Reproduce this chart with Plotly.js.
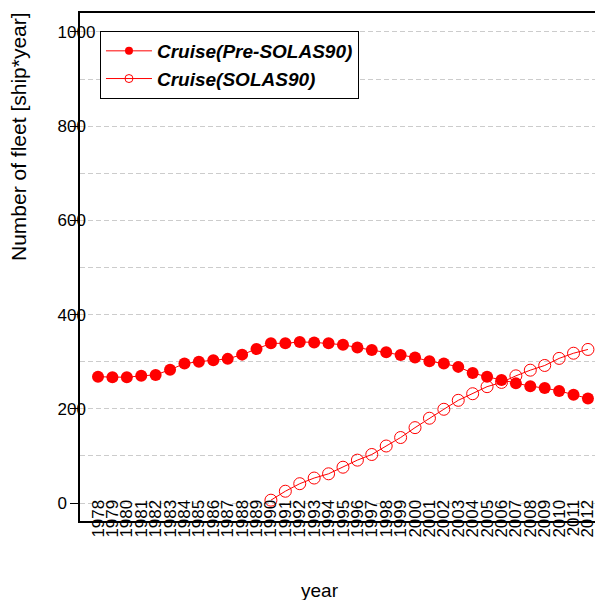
<!DOCTYPE html>
<html>
<head>
<meta charset="utf-8">
<script src="https://cdn.plot.ly/plotly-3.0.1.min.js"></script>
<style>html,body{margin:0;padding:0;background:#fff;}#chart{width:595px;height:600px;}</style>
</head>
<body>
<div id="chart"></div>
<script>
const years = [1978,1979,1980,1981,1982,1983,1984,1985,1986,1987,1988,1989,1990,1991,1992,1993,1994,1995,1996,1997,1998,1999,2000,2001,2002,2003,2004,2005,2006,2007,2008,2009,2010,2011,2012];
const preSolas = [268,267,267,270,272,283,296,300,303,306,315,327,339,339,342,341,339,336,330,325,320,314,309,301,296,289,276,268,261,254,248,244,238,230,222];
const solas = [null,null,null,null,null,null,null,null,null,null,null,null,6,25,41,53,62,76,91,103,121,139,160,180,199,218,232,247,256,270,282,292,307,318,326];
const seriesNames = ["Cruise(Pre-SOLAS90)", "Cruise(SOLAS90)"];
const yTicks = [0,200,400,600,800,1000];
const xTickText = years.map(String);

const red = "#ff0000";
const fontFam = "Liberation Sans, Arial, sans-serif";

const traces = [
  {x: years, y: preSolas, mode: "lines+markers", type: "scatter", showlegend: false,
   line: {color: red, width: 1}, marker: {symbol: "circle", size: 12, color: red}},
  {x: years, y: solas, mode: "lines+markers", type: "scatter", showlegend: false,
   line: {color: red, width: 1}, marker: {symbol: "circle-open", size: 12, color: red, line: {width: 1, color: red}}},
  {x: [null], y: [null], mode: "lines+markers", type: "scatter", name: seriesNames[0],
   line: {color: red, width: 1}, marker: {symbol: "circle", size: 8, color: red}},
  {x: [null], y: [null], mode: "lines+markers", type: "scatter", name: seriesNames[1],
   line: {color: red, width: 1}, marker: {symbol: "circle-open", size: 8, color: red, line: {width: 1, color: red}}}
];

const layout = {
  width: 595, height: 600,
  margin: {l: 80, r: 0, t: 13, b: 79, pad: 0},
  paper_bgcolor: "#fff", plot_bgcolor: "#fff",
  font: {family: fontFam, color: "#000", size: 17},
  showlegend: true,
  legend: {x: 0.0388, y: 0.9646, xanchor: "left", yanchor: "top",
    bgcolor: "#fff", bordercolor: "#000", borderwidth: 1,
    font: {family: fontFam, size: 19, weight: "bold", style: "italic", color: "#000"},
    itemwidth: 46, tracegroupgap: 0},
  xaxis: {
    type: "linear", range: [1976.75, 2012.49],
    tickmode: "array", tickvals: years, ticktext: xTickText,
    tickangle: -90, ticks: "", showgrid: false, zeroline: false,
    showline: true, mirror: true, linecolor: "#000", linewidth: 2,
    tickfont: {size: 17, family: fontFam, color: "#000"},
    ticklabelstandoff: -30, ticklabeloverflow: "allow"
  },
  yaxis: {
    range: [-38.2, 1040.3],
    tickmode: "array", tickvals: yTicks, ticktext: yTicks.map(String),
    ticks: "outside", ticklen: 8, tickcolor: "#000", tickwidth: 1,
    ticklabelposition: "inside", ticklabelstandoff: -22,
    showgrid: true, gridcolor: "#cccccc", gridwidth: 1, griddash: "5px,3px",
    minor: {tickvals: [100,300,500,700,900], showgrid: true, gridcolor: "#cccccc", gridwidth: 1, griddash: "5px,3px", ticks: ""},
    zeroline: false, showline: true, linecolor: "#000", linewidth: 2,
    tickfont: {size: 17, family: fontFam, color: "#000"}
  },
  annotations: [
    {text: "Number of fleet [ship*year]", xref: "paper", yref: "paper",
     x: (18 - 80) / 515, y: (521 - 137) / 508, xanchor: "center", yanchor: "middle",
     textangle: -90, showarrow: false, font: {size: 21, family: fontFam, color: "#000"}},
    {text: "year", xref: "paper", yref: "paper",
     x: (320 - 80) / 515, y: -(590 - 521) / 508, xanchor: "center", yanchor: "middle",
     showarrow: false, font: {size: 19, family: fontFam, color: "#000"}}
  ]
};

Plotly.newPlot("chart", traces, layout, {displayModeBar: false, staticPlot: true});
</script>
</body>
</html>
